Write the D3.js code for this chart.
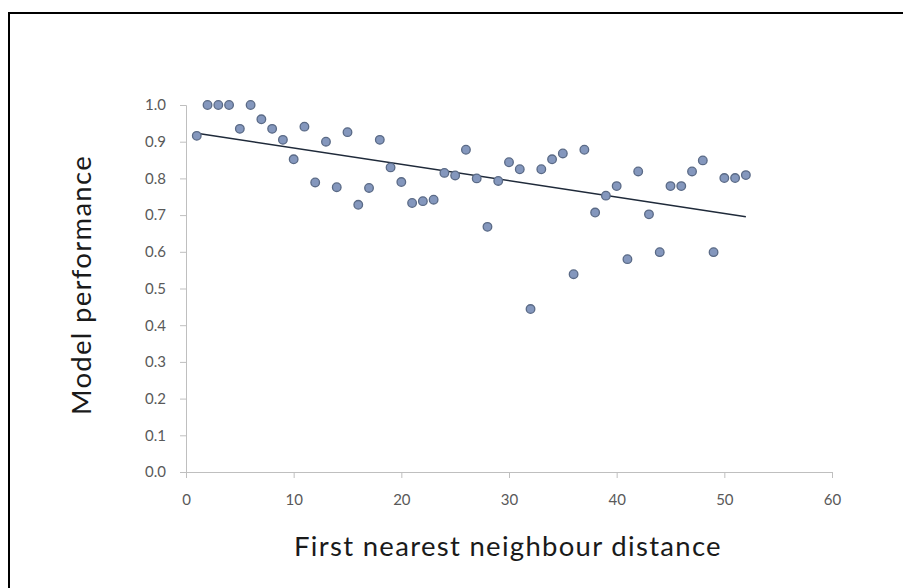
<!DOCTYPE html>
<meta charset="utf-8">
<style>
body { margin: 0; background: #fff; }
.tick text { font-family: Lato, "Open Sans", sans-serif; font-size: 15px; fill: #595959; }
.axis path, .axis line { stroke: #bfbfbf; }
.title { font-family: Lato, "Open Sans", sans-serif; font-size: 27.5px; letter-spacing: 1.3px; fill: #1a1a1a; }
.dots circle { fill: #8497bd; stroke: #5a6a86; stroke-width: 1.3px; }
</style>
<svg width="903" height="588"></svg>
<script src="https://d3js.org/d3.v7.min.js"></script>
<script>
var distance = [1,2,3,4,5,6,7,8,9,10,11,12,13,14,15,16,17,18,19,20,21,22,23,24,25,26,
                27,28,29,30,31,32,33,34,35,36,37,38,39,40,41,42,43,44,45,46,47,48,49,50,51,52];
var performance = [0.916,1.0,1.0,1.0,0.935,1.0,0.961,0.935,0.905,0.852,0.941,0.789,0.9,0.776,
                   0.926,0.728,0.774,0.905,0.83,0.79,0.733,0.738,0.742,0.815,0.808,0.878,0.8,
                   0.668,0.793,0.844,0.825,0.444,0.825,0.852,0.868,0.539,0.878,0.707,0.753,
                   0.779,0.58,0.819,0.702,0.599,0.779,0.779,0.819,0.849,0.599,0.801,0.801,0.809];
var xTicks = [0,10,20,30,40,50,60];
var yTicks = [0,0.1,0.2,0.3,0.4,0.5,0.6,0.7,0.8,0.9,1.0];

var svg = d3.select("svg");

// outer frame (only top/left visible)
svg.append("rect")
    .attr("x", 9).attr("y", 13)
    .attr("width", 1000).attr("height", 1000)
    .attr("fill", "none").attr("stroke", "#000").attr("stroke-width", 2);

var x = d3.scaleLinear().domain([0, 60]).range([186, 832]);
var y = d3.scaleLinear().domain([0, 1]).range([472, 105]);

svg.append("g")
    .attr("class", "axis")
    .attr("transform", "translate(0,472)")
    .call(d3.axisBottom(x).tickValues(xTicks).tickSize(6).tickPadding(16).tickFormat(d3.format("d")))
  .select(".domain").attr("d", "M186,0.5H832.5V6");

svg.append("g")
    .attr("class", "axis")
    .attr("transform", "translate(186,0)")
    .call(d3.axisLeft(y).tickValues(yTicks).tickSize(6).tickPadding(14).tickFormat(d3.format(".1f")))
  .select(".domain").attr("d", "M-6,105.5H0.5V472");

// least squares trend line
var mx = d3.mean(distance), my = d3.mean(performance);
var sxy = d3.sum(distance, function(d, i) { return (d - mx) * (performance[i] - my); });
var sxx = d3.sum(distance, function(d) { return (d - mx) * (d - mx); });
var slope = sxy / sxx, icpt = my - slope * mx;
var x0 = d3.min(distance), x1 = d3.max(distance);

svg.append("line")
    .attr("x1", x(x0)).attr("y1", y(icpt + slope * x0))
    .attr("x2", x(x1)).attr("y2", y(icpt + slope * x1))
    .attr("stroke", "#1f2a3a").attr("stroke-width", 1.5);

svg.append("g")
    .attr("class", "dots")
  .selectAll("circle")
  .data(distance)
  .enter().append("circle")
    .attr("cx", function(d) { return x(d); })
    .attr("cy", function(d, i) { return y(performance[i]); })
    .attr("r", 4.3);

svg.append("text")
    .attr("class", "title")
    .attr("x", 508).attr("y", 556)
    .attr("text-anchor", "middle")
    .text("First nearest neighbour distance");

svg.append("text")
    .attr("class", "title")
    .attr("transform", "translate(91,285) rotate(-90)")
    .attr("text-anchor", "middle")
    .text("Model performance");
</script>
